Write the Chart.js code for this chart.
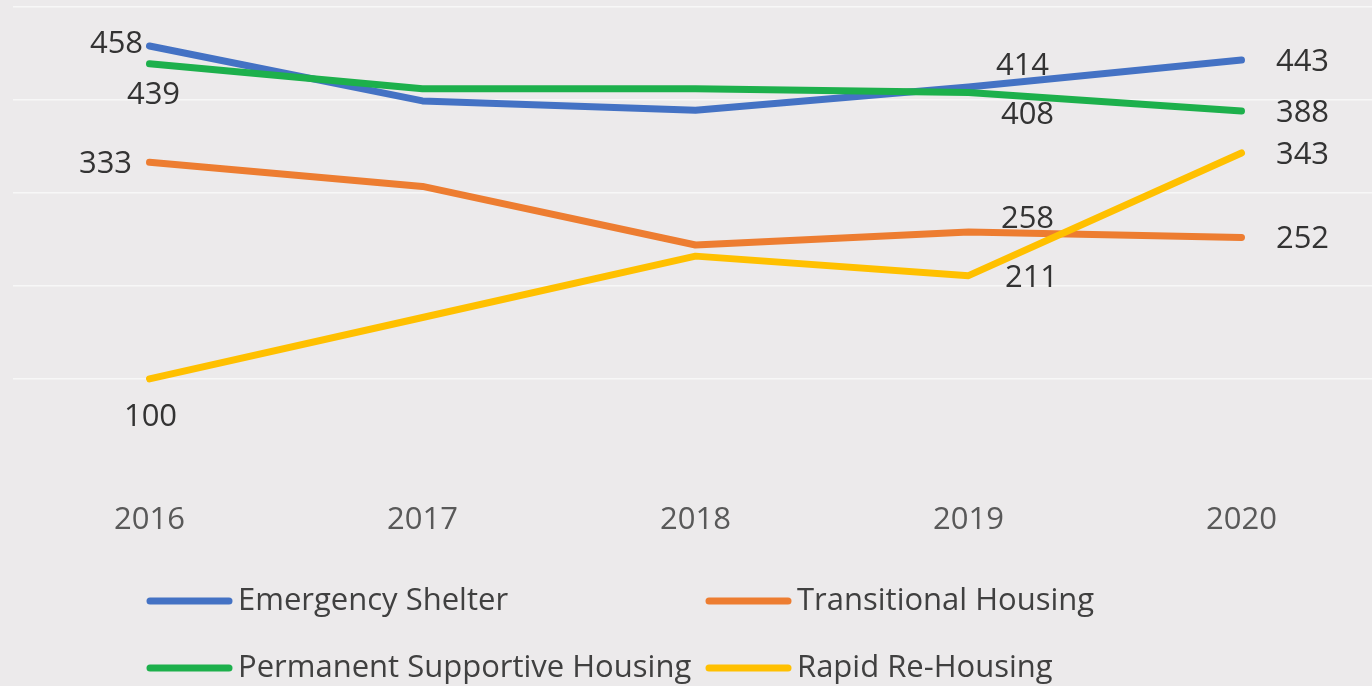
<!DOCTYPE html>
<html>
<head>
<meta charset="utf-8">
<script src="https://cdn.jsdelivr.net/npm/chart.js@4.4.1/dist/chart.umd.min.js"></script>
<style>
  html, body { margin: 0; padding: 0; background: #ECEAEB; overflow: hidden; }
  #wrap { width: 1378px; height: 686px; position: relative; }
</style>
</head>
<body>
<div id="wrap"><canvas id="c" width="1378" height="686"></canvas></div>
<script>
const years = ['2016', '2017', '2018', '2019', '2020'];
const emergencyShelter = [458, 399, 389, 414, 443];
const transitionalHousing = [333, 307, 244, 258, 252];
const permanentSupportive = [439, 412, 412, 408, 388];
const rapidReHousing = [100, 166, 232, 211, 343];
const seriesNames = ['Emergency Shelter', 'Transitional Housing', 'Permanent Supportive Housing', 'Rapid Re-Housing'];
const seriesColors = ['#4472C4', '#ED7D31', '#1DB04C', '#FFC000'];

// label placement offsets (pixels, styling only), per series per point index
const labelOffsets = [
  {0: [-33, -2], 3: [54, -21], 4: [61, 2]},
  {0: [-44, 2], 3: [59, -13], 4: [61, 2]},
  {0: [4, 31], 3: [59, 23], 4: [61, 2]},
  {0: [1, 38], 3: [63, 3], 4: [61, 2]}
];

const FONT = '"Open Sans", sans-serif';

const labelPlugin = {
  id: 'pointLabels',
  afterDatasetsDraw(chart) {
    const ctx = chart.ctx;
    ctx.save();
    ctx.font = '31px ' + FONT;
    ctx.fillStyle = '#333333';
    ctx.textAlign = 'center';
    ctx.textBaseline = 'middle';
    chart.data.datasets.forEach((ds, i) => {
      const meta = chart.getDatasetMeta(i);
      const offs = labelOffsets[i];
      Object.keys(offs).forEach(k => {
        const idx = +k;
        const pt = meta.data[idx];
        ctx.fillText(String(ds.data[idx]), pt.x + offs[k][0], pt.y + offs[k][1]);
      });
    });
    ctx.restore();
  }
};

const legendPlugin = {
  id: 'gridLegend',
  afterDraw(chart) {
    const ctx = chart.ctx;
    const colX = [147, 706];
    const rowY = [601, 668];
    ctx.save();
    ctx.font = '31px ' + FONT;
    ctx.textBaseline = 'middle';
    ctx.textAlign = 'left';
    chart.data.datasets.forEach((ds, i) => {
      const x = colX[i % 2];
      const y = rowY[Math.floor(i / 2)];
      ctx.strokeStyle = ds.borderColor;
      ctx.lineWidth = 7;
      ctx.lineCap = 'round';
      ctx.beginPath();
      ctx.moveTo(x + 3, y);
      ctx.lineTo(x + 82, y);
      ctx.stroke();
      ctx.fillStyle = '#404040';
      ctx.fillText(ds.label, x + 91, y);
    });
    ctx.restore();
  }
};

const seriesData = [emergencyShelter, transitionalHousing, permanentSupportive, rapidReHousing];

new Chart(document.getElementById('c'), {
  type: 'line',
  data: {
    labels: years,
    datasets: seriesData.map((d, i) => ({
      label: seriesNames[i],
      data: d,
      borderColor: seriesColors[i],
      backgroundColor: seriesColors[i],
      borderWidth: 7,
      borderCapStyle: 'round',
      borderJoinStyle: 'round',
      pointRadius: 0,
      tension: 0,
      clip: false,
      order: 4 - i
    }))
  },
  options: {
    responsive: false,
    animation: false,
    layout: { padding: { left: 13, right: 0, top: 7, bottom: 117 } },
    plugins: {
      legend: { display: false },
      tooltip: { enabled: false },
      title: { display: false }
    },
    scales: {
      x: {
        offset: true,
        grid: { display: false, drawTicks: false },
        border: { display: false },
        ticks: {
          color: '#595959',
          font: { family: FONT, size: 31, lineHeight: 1.2 },
          padding: 30
        }
      },
      y: {
        min: 0, max: 500,
        ticks: { display: false, stepSize: 100 },
        grid: {
          drawTicks: false,
          lineWidth: 1.5,
          color: (c) => (c.tick && c.tick.value === 0) ? 'rgba(0,0,0,0)' : '#F7F7F7'
        },
        border: { display: false }
      }
    }
  },
  plugins: [labelPlugin, legendPlugin]
});
</script>
</body>
</html>
